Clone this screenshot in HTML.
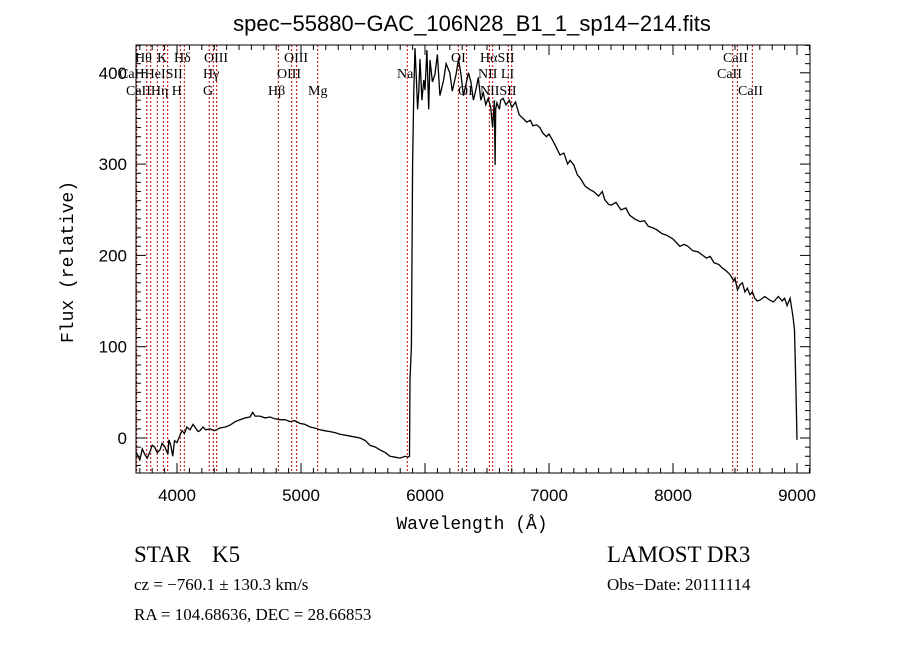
<!DOCTYPE html>
<html><head><meta charset="utf-8"><style>
body{margin:0;background:#fff;}
.lbl{font-family:"Liberation Serif",serif;font-size:14px;}
</style></head><body>
<svg id="chart" width="900" height="649" viewBox="0 0 900 649" xmlns="http://www.w3.org/2000/svg" style="font-family:'Liberation Sans',sans-serif">
<rect width="900" height="649" fill="#fff"/>
<text x="472" y="31" font-size="22" text-anchor="middle">spec−55880−GAC_106N28_B1_1_sp14−214.fits</text>
<g id="lines"></g>
<g id="spec"></g>
<g id="axes"></g>
<rect x="136" y="45" width="674" height="428" fill="none" stroke="#000" stroke-width="1"/>
<g class="lbl">
<text class="lbl" x="135" y="62">Hθ</text><text class="lbl" x="157" y="62">K</text><text class="lbl" x="174" y="62">Hδ</text><text class="lbl" x="204" y="62">OIII</text><text class="lbl" x="284" y="62">OIII</text><text class="lbl" x="451" y="62">OI</text><text class="lbl" x="480" y="62">HαSII</text><text class="lbl" x="723" y="62">CaII</text>
<text class="lbl" x="119" y="78">CaHHeISII</text><text class="lbl" x="203" y="78">Hγ</text><text class="lbl" x="277" y="78">OIII</text><text class="lbl" x="397" y="78">Na</text><text class="lbl" x="478" y="78">NII LI</text><text class="lbl" x="717" y="78">CaII</text>
<text class="lbl" x="126" y="95">CaIIHη H</text><text class="lbl" x="203" y="95">G</text><text class="lbl" x="268" y="95">Hβ</text><text class="lbl" x="308" y="95">Mg</text><text class="lbl" x="458" y="95">OI</text><text class="lbl" x="480" y="95">NIISII</text><text class="lbl" x="738" y="95">CaII</text>
</g>
<text x="472" y="529" font-size="18" text-anchor="middle" style="font-family:'Liberation Mono',monospace">Wavelength (Å)</text>
<text transform="translate(73,262) rotate(-90)" font-size="18" text-anchor="middle" style="font-family:'Liberation Mono',monospace">Flux (relative)</text>
<text x="134" y="562" font-size="23" style="font-family:'Liberation Serif',serif">STAR</text>
<text x="212" y="562" font-size="23" style="font-family:'Liberation Serif',serif">K5</text>
<text x="134" y="590" font-size="17" style="font-family:'Liberation Serif',serif">cz = −760.1 ± 130.3 km/s</text>
<text x="134" y="620" font-size="17" style="font-family:'Liberation Serif',serif">RA = 104.68636, DEC =  28.66853</text>
<text x="607" y="562" font-size="23" style="font-family:'Liberation Serif',serif">LAMOST DR3</text>
<text x="607" y="590" font-size="17" style="font-family:'Liberation Serif',serif">Obs−Date: 20111114</text>
</svg>
<script>
const wavelengths=[3669,3700,3720,3740,3760,3782,3800,3820,3840,3863,3880,3900,3927,3935,3950,3965,3980,4000,4024,4040,4060,4080,4105,4130,4150,4170,4185,4210,4230,4266,4300,4347,4390,4427,4470,4508,4550,4589,4610,4630,4669,4710,4750,4790,4831,4870,4911,4950,4992,5030,5073,5110,5153,5190,5234,5270,5315,5400,5476,5520,5556,5600,5637,5680,5718,5760,5798,5840,5863,5875,5879,5890,5900,5910,5919,5930,5940,5950,5960,5975,5990,6000,6015,6030,6040,6060,6080,6100,6120,6150,6170,6200,6220,6250,6270,6290,6310,6330,6350,6370,6390,6410,6430,6450,6470,6490,6510,6530,6545,6560,6565,6570,6580,6600,6610,6630,6653,6680,6700,6730,6760,6790,6820,6850,6870,6900,6927,6950,6980,7000,7030,7060,7089,7120,7150,7170,7200,7230,7250,7290,7331,7360,7400,7430,7450,7480,7500,7540,7580,7620,7650,7690,7734,7770,7800,7840,7870,7910,7950,8000,8056,8090,8120,8160,8200,8240,8270,8300,8330,8370,8400,8430,8460,8490,8500,8520,8540,8560,8580,8600,8620,8640,8660,8680,8702,8740,8780,8810,8850,8880,8900,8920,8944,8960,8970,8980,8990,9000,9002];
const fluxes=[-15,-24,-12,-18,-22,-15,-8,-10,-16,-13,-6,-9,-18,-2,-8,-20,-3,-5,3,8,5,12,9,15,11,7,8,12,9,10,8,11,12,14,18,20,22,23,28,24,24,22,23,21,20,20,18,19,16,15,12,11,9,8,7,6,4,2,0,-3,-8,-10,-13,-16,-20,-21,-22,-20,-21,-20,64,100,300,380,427,395,360,380,415,370,392,381,425,360,414,390,398,420,375,392,410,400,380,398,415,398,375,387,400,390,370,381,395,370,378,365,372,362,340,370,299,360,367,360,370,372,365,370,362,368,354,350,346,348,342,343,340,334,330,333,326,318,310,312,300,304,299,288,285,276,272,270,265,270,261,256,255,258,250,252,244,240,237,238,232,230,228,224,222,218,210,212,210,205,204,200,197,199,192,190,186,183,179,172,175,162,168,170,160,164,157,160,153,150,151,155,151,149,155,150,153,145,153,140,130,118,60,-2];
const lineWaves=[3675,3756,3788,3841,3890,3925,4027,4059,4260,4293,4320,4817,4925,4965,5135,5857,6269,6336,6519,6546,6672,6699,8482,8519,8640];
const xTicks=[4000,5000,6000,7000,8000,9000];
const yTicks=[0,100,200,300,400];
const X0=136,X1=810,Y0=45,Y1=473;
const xs=w=>177+(w-4000)*0.124;
const ys=f=>438-f*0.913;
const NS='http://www.w3.org/2000/svg';
function mk(t,a,p){const e=document.createElementNS(NS,t);for(const k in a)e.setAttribute(k,a[k]);p.appendChild(e);return e;}
const L=document.getElementById('lines');
lineWaves.forEach(w=>{const l=mk('line',{x1:xs(w),x2:xs(w),y1:Y0,y2:Y1,stroke:'#c00000','stroke-width':1,'stroke-dasharray':'2,2'},L);

});
const S=document.getElementById('spec');
const pts=wavelengths.map((w,i)=>xs(w).toFixed(1)+','+Math.max(Y0,Math.min(Y1,ys(fluxes[i]))).toFixed(1)).join(' ');
const pl=mk('polyline',{points:pts,fill:'none',stroke:'#000','stroke-width':1.3},S);


const A=document.getElementById('axes');
for(let w=3700;w<=9100;w+=100){const x=xs(w);const maj=w%1000===0;const len=maj?10:5;
mk('line',{x1:x,x2:x,y1:Y1,y2:Y1-len,stroke:'#000'},A);mk('line',{x1:x,x2:x,y1:Y0,y2:Y0+len,stroke:'#000'},A);}
for(let f=-30;f<=430;f+=10){const y=ys(f);const maj=f%100===0;const len=maj?10:5;
mk('line',{x1:X0,x2:X0+len,y1:y,y2:y,stroke:'#000'},A);mk('line',{x1:X1,x2:X1-len,y1:y,y2:y,stroke:'#000'},A);}
xTicks.forEach(v=>{const t=mk('text',{x:xs(v),y:501,'font-size':17,'text-anchor':'middle'},A);t.textContent=v;

});
yTicks.forEach(v=>{const t=mk('text',{x:127,y:ys(v)+6,'font-size':17,'text-anchor':'end'},A);t.textContent=v;

});
</script>
</body></html>
